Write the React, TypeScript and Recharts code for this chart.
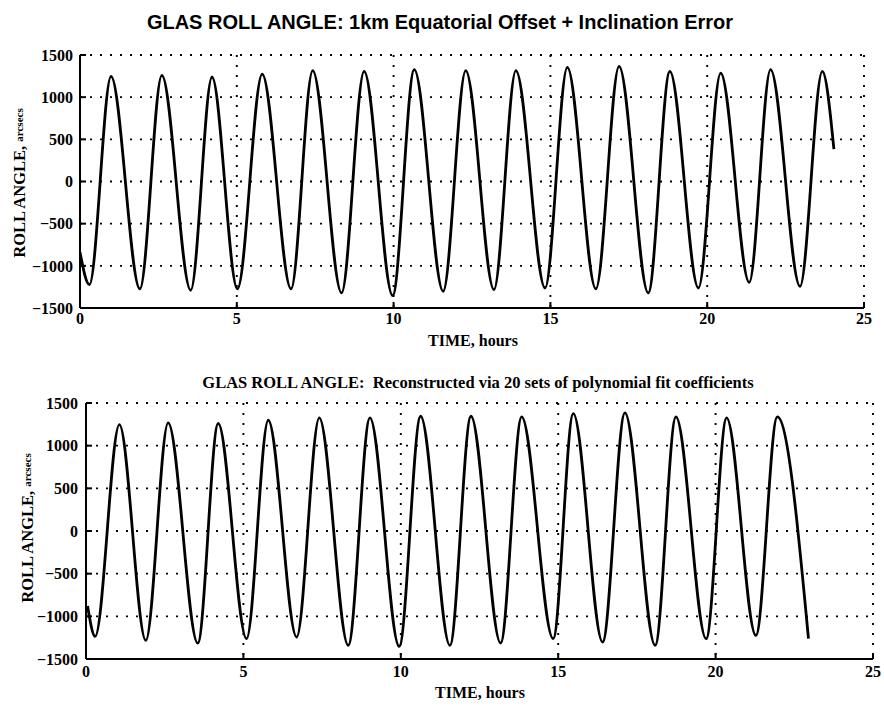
import React from 'react';
import { LineChart, Line, XAxis, YAxis, CartesianGrid } from 'recharts';

// ---- data ----
const xTicks = [0, 5, 10, 15, 20, 25];
const yTicks = [-1500, -1000, -500, 0, 500, 1000, 1500];

// Top panel: simulated roll angle (hours, arcsecs) at start, extrema, end
const topTimes = [
  0, 0.30, 0.99, 1.91, 2.61, 3.53, 4.21, 5.02, 5.81, 6.73, 7.42, 8.34, 9.06, 9.97,
  10.66, 11.58, 12.30, 13.20, 13.90, 14.83, 15.54, 16.45, 17.19, 18.12, 18.81, 19.72,
  20.43, 21.34, 22.02, 22.96, 23.67, 24.04,
];
const topRoll = [
  -840, -1224, 1247, -1274, 1259, -1290, 1239, -1274, 1274, -1274, 1314, -1321, 1306, -1353,
  1326, -1302, 1314, -1282, 1314, -1263, 1353, -1274, 1365, -1321, 1306, -1263,
  1286, -1196, 1326, -1243, 1306, 385,
];

// Bottom panel: reconstructed roll angle
const bottomTimes = [
  0.05, 0.29, 1.06, 1.90, 2.61, 3.55, 4.20, 5.10, 5.79, 6.69, 7.41, 8.33, 9.02, 9.95,
  10.63, 11.56, 12.23, 13.17, 13.84, 14.84, 15.48, 16.41, 17.12, 18.08, 18.74, 19.70,
  20.35, 21.28, 21.96, 22.95,
];
const bottomRoll = [
  -880, -1235, 1247, -1282, 1267, -1314, 1260, -1262, 1298, -1243, 1325, -1341, 1325, -1353,
  1345, -1341, 1345, -1314, 1337, -1262, 1376, -1302, 1385, -1341, 1337, -1262,
  1325, -1224, 1337, -1262,
];

const topTitle = 'GLAS ROLL ANGLE: 1km Equatorial Offset + Inclination Error';
const bottomTitle = 'GLAS ROLL ANGLE:  Reconstructed via 20 sets of polynomial fit coefficients';
const xLabel = 'TIME, hours';

const topData = topTimes.map((t, i) => ({ t, v: topRoll[i] }));
const bottomData = bottomTimes.map((t, i) => ({ t, v: bottomRoll[i] }));

const serif = '"Liberation Serif", "DejaVu Serif", serif';
const tickStyle = { fontFamily: serif, fontWeight: 700, fontSize: 16, fill: '#000' };
const fmt = (v: number) => (v < 0 ? '\u2212' + Math.abs(v) : String(v));

function Panel(props: {
  data: { t: number; v: number }[];
  top: number;
  height: number;
  margin: { top: number; left: number; right: number; bottom: number };
  xTickMargin: number;
  yTickMargin: number;
}) {
  const { data, top, height, margin, xTickMargin, yTickMargin } = props;
  return (
    <div style={{ position: 'absolute', left: 0, top, width: 884, height }}>
      <LineChart width={884} height={height} data={data} margin={margin}>
        <CartesianGrid stroke="#000" strokeWidth={1.9} strokeDasharray="2 8" />
        <XAxis
          dataKey="t"
          type="number"
          domain={[0, 25]}
          ticks={xTicks}
          interval={0}
          height={30}
          tickSize={-6}
          tickMargin={xTickMargin}
          stroke="#000"
          strokeWidth={2}
          tick={tickStyle}
          allowDataOverflow
        />
        <XAxis
          xAxisId="top"
          orientation="top"
          dataKey="t"
          type="number"
          domain={[0, 25]}
          ticks={xTicks}
          height={0}
          tickSize={-6}
          tick={false}
          stroke="#000"
          strokeWidth={2}
        />
        <YAxis
          type="number"
          domain={[-1500, 1500]}
          ticks={yTicks}
          interval={0}
          width={60}
          tickSize={-6}
          tickMargin={yTickMargin}
          tickFormatter={fmt}
          stroke="#000"
          strokeWidth={2}
          tick={tickStyle}
          allowDataOverflow
        />
        <YAxis
          yAxisId="right"
          orientation="right"
          type="number"
          domain={[-1500, 1500]}
          ticks={yTicks}
          width={0}
          tickSize={-6}
          tick={false}
          stroke="#000"
          strokeWidth={2}
        />
        <Line
          dataKey="v"
          type="monotoneX"
          stroke="#000"
          strokeWidth={2.8}
          dot={false}
          isAnimationActive={false}
        />
      </LineChart>
    </div>
  );
}

function YLabel(props: { cx: number; cy: number }) {
  const { cx, cy } = props;
  return (
    <svg
      width={40}
      height={240}
      style={{ position: 'absolute', left: cx - 20, top: cy - 120 }}
    >
      <text
        x={20}
        y={120}
        transform="rotate(-90 20 120)"
        textAnchor="middle"
        dominantBaseline="central"
        fontFamily={serif}
        fontWeight={700}
        fill="#000"
      >
        <tspan fontSize={16.5}>ROLL ANGLE, </tspan>
        <tspan fontSize={11}>arcsecs</tspan>
      </text>
    </svg>
  );
}

export default function App() {
  return (
    <div
      style={{
        position: 'absolute',
        left: 0,
        top: 0,
        width: 884,
        height: 707,
        background: '#fff',
        overflow: 'hidden',
      }}
    >
      <div
        style={{
          position: 'absolute',
          left: 440 - 400,
          width: 800,
          top: 10,
          textAlign: 'center',
          fontFamily: '"Liberation Sans", Arial, sans-serif',
          fontWeight: 700,
          fontSize: 20,
          lineHeight: '24px',
          whiteSpace: 'pre',
        }}
      >
        {topTitle}
      </div>

      <Panel
        data={topData}
        top={0}
        height={350}
        margin={{ top: 55, left: 20, right: 20, bottom: 12 }}
        xTickMargin={11}
        yTickMargin={13}
      />
      <div
        style={{
          position: 'absolute',
          left: 473 - 100,
          width: 200,
          top: 332,
          textAlign: 'center',
          fontFamily: serif,
          fontWeight: 700,
          fontSize: 16,
          lineHeight: '18px',
        }}
      >
        {xLabel}
      </div>
      <YLabel cx={19} cy={183} />

      <div
        style={{
          position: 'absolute',
          left: 478 - 400,
          width: 800,
          top: 373,
          textAlign: 'center',
          fontFamily: serif,
          fontWeight: 700,
          fontSize: 16.5,
          lineHeight: '20px',
          whiteSpace: 'pre',
        }}
      >
        {bottomTitle}
      </div>

      <Panel
        data={bottomData}
        top={350}
        height={357}
        margin={{ top: 53, left: 26, right: 11, bottom: 18 }}
        xTickMargin={13}
        yTickMargin={14}
      />
      <div
        style={{
          position: 'absolute',
          left: 480 - 100,
          width: 200,
          top: 684,
          textAlign: 'center',
          fontFamily: serif,
          fontWeight: 700,
          fontSize: 16,
          lineHeight: '18px',
        }}
      >
        {xLabel}
      </div>
      <YLabel cx={27} cy={528} />
    </div>
  );
}
